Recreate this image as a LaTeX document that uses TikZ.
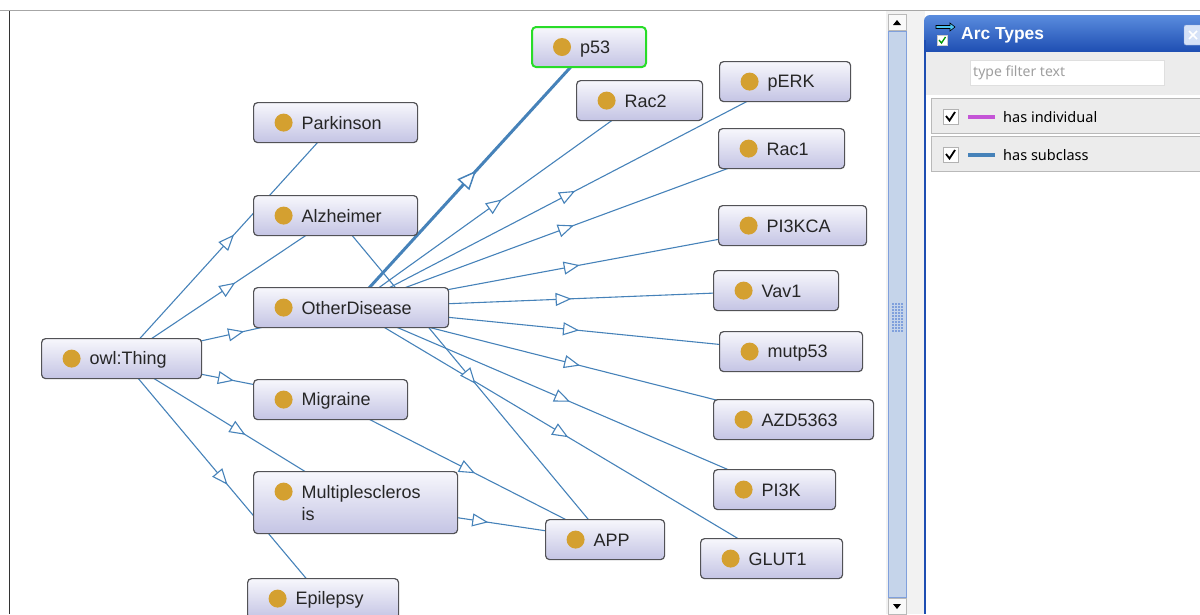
\documentclass[tikz,border=0pt]{standalone}
\usepackage{fontspec}
\setmainfont{Liberation Sans}
\newfontfamily\panelfont{Noto Sans}
\usetikzlibrary{arrows.meta,decorations.markings,backgrounds}

\definecolor{arcblue}{RGB}{70,130,185}
\definecolor{dotgold}{RGB}{212,160,48}
\definecolor{clstop}{RGB}{247,247,252}
\definecolor{clsbottom}{RGB}{196,196,228}
\definecolor{clsborder}{RGB}{82,82,86}
\definecolor{selgreen}{RGB}{40,220,40}
\definecolor{indivpink}{RGB}{196,84,214}
\definecolor{headtop}{RGB}{90,140,222}
\definecolor{headbottom}{RGB}{30,78,178}
\definecolor{rowgray}{RGB}{236,236,236}
\definecolor{thumbblue}{RGB}{197,212,234}
\definecolor{thumbborder}{RGB}{128,160,220}

\newcommand\clsstrut{\vrule width 0pt height 16pt depth 3pt}

\tikzset{
  cls/.style={anchor=north west, rectangle, rounded corners=4pt, draw=clsborder, line width=1.2pt,
    top color=clstop, bottom color=clsbottom, inner xsep=0pt, inner ysep=0pt,
    minimum height=40pt, align=left, font=\fontsize{18}{22}\selectfont, text=black!85,
    execute at begin node={\leftskip=48pt\clsstrut}, execute at end node={\clsstrut},
    path picture={\fill[dotgold] ([shift={(30pt,-20pt)}]path picture bounding box.north west) circle[radius=9pt];}},
  clssel/.style={cls, draw=selgreen, line width=2pt},
  subarc/.style={draw=arcblue, line width=1.1pt, postaction={decorate},
    decoration={markings, mark=at position 0.5 with {\arrow[xshift=8pt]{Triangle[open, fill=white, length=16pt, width=13pt]}}}},
  subarcsel/.style={draw=arcblue, line width=3pt, postaction={decorate},
    decoration={markings, mark=at position 0.5 with {\arrow[xshift=9pt]{Triangle[open, fill=white, length=19pt, width=16pt, line width=1.5pt]}}}},
  paneltext/.style={anchor=west, inner sep=0pt, font=\panelfont\fontsize{14.5}{17}\selectfont}
}

\begin{document}
\begin{tikzpicture}[x=1pt, y=-1pt]
  \useasboundingbox (0,0) rectangle (1200,614);

  % view frame
  \draw[gray!70, line width=1.2pt] (0,10.5) -- (1200,10.5);
  \draw[black!80, line width=1.2pt] (9.5,11) -- (9.5,614);

  % classes
  \node[cls, text width=160pt] (thing) at (41,338) {owl:Thing};
  \node[cls, text width=164pt] (parkinson) at (253,102) {Parkinson};
  \node[cls, text width=164pt] (alzheimer) at (253,195) {Alzheimer};
  \node[cls, text width=195pt] (otherdis) at (253,287) {OtherDisease};
  \node[cls, text width=154pt] (migraine) at (253,379) {Migraine};
  \node[cls, text width=204pt, minimum height=62pt] (multiscl) at (253,471) {Multiplescleros\\is};
  \node[cls, text width=151pt] (epilepsy) at (247,578) {Epilepsy};
  \node[clssel, text width=114pt] (p53) at (531,26) {p53};
  \node[cls, text width=126pt] (rac2) at (576,80) {Rac2};
  \node[cls, text width=131pt] (perk) at (719,61) {pERK};
  \node[cls, text width=126pt] (rac1) at (718,128) {Rac1};
  \node[cls, text width=148pt] (pikca) at (718,205) {PI3KCA};
  \node[cls, text width=125pt] (vav1) at (713,270) {Vav1};
  \node[cls, text width=143pt] (mutp) at (719,331) {mutp53};
  \node[cls, text width=160pt] (azd) at (713,399) {AZD5363};
  \node[cls, text width=122pt] (pik) at (713,469) {PI3K};
  \node[cls, text width=119pt] (app) at (545,519) {APP};
  \node[cls, text width=142pt] (glut) at (700,538) {GLUT1};

  % subclass arcs, behind the classes
  \begin{scope}[on background layer]
    \draw[subarc] (thing.center) -- (parkinson.center);
    \draw[subarc] (thing.center) -- (alzheimer.center);
    \draw[subarc] (thing.center) -- (otherdis.center);
    \draw[subarc] (thing.center) -- (migraine.center);
    \draw[subarc] (thing.center) -- (multiscl.center);
    \draw[subarc] (thing.center) -- (epilepsy.center);

    \draw[subarcsel] (otherdis.center) -- (p53.center);
    \draw[subarc] (otherdis.center) -- (rac2.center);
    \draw[subarc] (otherdis.center) -- (perk.center);
    \draw[subarc] (otherdis.center) -- (rac1.center);
    \draw[subarc] (otherdis.center) -- (pikca.center);
    \draw[subarc] (otherdis.center) -- (vav1.center);
    \draw[subarc] (otherdis.center) -- (mutp.center);
    \draw[subarc] (otherdis.center) -- (azd.center);
    \draw[subarc] (otherdis.center) -- (pik.center);
    \draw[subarc] (otherdis.center) -- (glut.center);

    \draw[subarc] (alzheimer.center) -- (app.center);
    \draw[subarc] (migraine.center) -- (app.center);
    \draw[subarc] (multiscl.center) -- (app.center);
  \end{scope}

  % scrollbar
  \fill[gray!10] (886,11) rectangle (925,614);
  \draw[gray!55, fill=gray!5] (888,14) rectangle (906,30);
  \fill[black] (893,25) -- (901,25) -- (897,20) -- cycle;
  \draw[thumbborder, fill=thumbblue, line width=0.8pt] (888,31) rectangle (906,597);
  \foreach \gy in {303,306,...,330}
    \foreach \gx in {892,895,...,902}
      \fill[thumbborder] (\gx,\gy) rectangle ++(1.5,1.5);
  \draw[gray!55, fill=gray!5] (888,598) rectangle (906,614);
  \fill[black] (893,604) -- (901,604) -- (897,609) -- cycle;

  % arc types panel
  \fill[white] (925,50) rectangle (1200,614);
  \shade[top color=headtop, bottom color=headbottom] (924,52) -- (924,21)
    arc[start angle=180, end angle=270, radius=6] -- (1200,15) -- (1200,52) -- cycle;
  \draw[headbottom, line width=2pt] (925,40) -- (925,614);
  \draw[black, fill=cyan!70, line width=0.6pt] (936,25.5) -- (950,25.5) -- (950,23) -- (955,27) -- (950,31) -- (950,28.5) -- (936,28.5) -- cycle;
  \draw[gray!40, fill=white] (937,35) rectangle (947,45);
  \draw[green!60!black, line width=1.3pt] (939,40) -- (941.5,43) -- (945.5,37);
  \node[anchor=west, inner sep=0pt, text=white, font=\bfseries\fontsize{17.4}{20}\selectfont] (arctitle) at (961,35) {Arc Types};
  \draw[white!50!headbottom, fill=white!75!headtop, rounded corners=2pt] (1184,25) rectangle (1204,45);
  \draw[white, line width=1.6pt] (1189,31) -- (1197,39) (1197,31) -- (1189,39);

  \fill[rowgray] (926,52) rectangle (1200,95);
  \draw[gray!25, fill=white] (970,60) rectangle (1164,85);
  \node[paneltext, text=gray!75, font=\panelfont\fontsize{14}{16}\selectfont] (filter) at (973,73) {type filter text};

  \draw[gray!55, fill=rowgray, line width=1pt] (931,98) rectangle (1205,133);
  \draw[gray!60, fill=white] (943,109) rectangle (958,124);
  \draw[black, line width=1.8pt] (946,116) -- (949.5,120.5) -- (955,112);
  \draw[indivpink, line width=4pt] (968,117) -- (995,117);
  \node[paneltext] (hasindiv) at (1003,117) {has individual};

  \draw[gray!55, fill=rowgray, line width=1pt] (931,136) rectangle (1205,171);
  \draw[gray!60, fill=white] (943,147) rectangle (958,162);
  \draw[black, line width=1.8pt] (946,154) -- (949.5,158.5) -- (955,150);
  \draw[arcblue, line width=4pt] (968,155) -- (995,155);
  \node[paneltext] (hassub) at (1003,155) {has subclass};
\end{tikzpicture}
\end{document}
